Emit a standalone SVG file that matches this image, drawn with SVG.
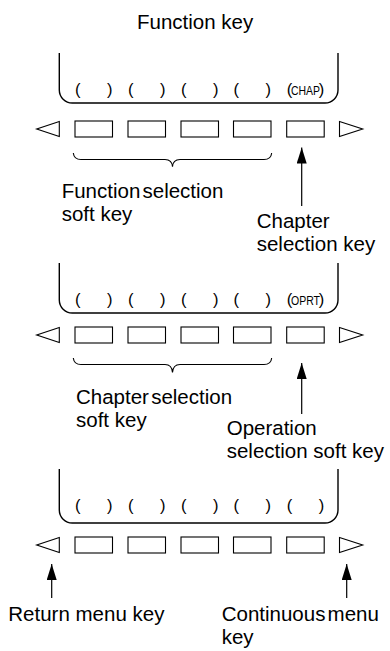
<svg xmlns="http://www.w3.org/2000/svg" width="390" height="651" viewBox="0 0 390 651">
<style>
.t{font-family:"Liberation Sans",Arial,sans-serif;font-size:20.5px;fill:#000}
.tight{word-spacing:-3.5px}
.p{font-family:"Liberation Sans",Arial,sans-serif;font-size:16.5px;fill:#000}
.l{font-family:"Liberation Sans",Arial,sans-serif;font-size:12.5px;fill:#000}
.panel{fill:none;stroke:#000;stroke-width:1.4}
.key{fill:#fff;stroke:#000;stroke-width:1.1}
.tri{fill:#fff;stroke:#000;stroke-width:1.1}
.brace{fill:none;stroke:#000;stroke-width:1.1}
.arr{fill:none;stroke:#000;stroke-width:1.2}
</style>
<defs>
<marker id="ah" viewBox="0 0 16 10" refX="16" refY="5" markerWidth="16" markerHeight="10" markerUnits="userSpaceOnUse" orient="auto"><path d="M0,0 L16,5 L0,10 z" fill="#000"/></marker>
<g id="keyrow">
<polygon class="tri" points="59.3,121.5 36.7,129 59.3,136.5"/>
<rect class="key" x="75" y="121" width="37.5" height="16"/>
<rect class="key" x="128" y="121" width="37.5" height="16"/>
<rect class="key" x="181" y="121" width="37.5" height="16"/>
<rect class="key" x="233.5" y="121" width="37.5" height="16"/>
<rect class="key" x="286.7" y="121" width="37.5" height="16"/>
<polygon class="tri" points="339.5,121.5 362.7,129 339.5,136.5"/>
</g>
<g id="parens">
<text class="p" x="75" y="94.5">(</text><text class="p" x="112.5" y="94.5" text-anchor="end">)</text>
<text class="p" x="128" y="94.5">(</text><text class="p" x="165.5" y="94.5" text-anchor="end">)</text>
<text class="p" x="181" y="94.5">(</text><text class="p" x="218.5" y="94.5" text-anchor="end">)</text>
<text class="p" x="233.5" y="94.5">(</text><text class="p" x="271" y="94.5" text-anchor="end">)</text>
<text class="p" x="286.7" y="94.5">(</text><text class="p" x="324.2" y="94.5" text-anchor="end">)</text>
</g>
</defs>
<text class="t" x="137" y="29">Function key</text>

<g id="panel1">
<path class="panel" d="M59.3,53 V90 A13,13 0 0 0 72.3,103 H325 A13,13 0 0 0 338,90 V53"/>
<use href="#parens"/>
<text class="l" x="291" y="94.5" textLength="29" lengthAdjust="spacingAndGlyphs">CHAP</text>
<use href="#keyrow"/>
<path class="brace" d="M73.3,153 Q74,159.5 81,159.5 H165 Q172,159.5 172.5,166.7 Q173,159.5 180,159.5 H264 Q271,159.5 271.7,153"/>
</g>

<g id="panel2">
<g transform="translate(0,210)">
<path class="panel" d="M59.3,53 V90 A13,13 0 0 0 72.3,103 H325 A13,13 0 0 0 338,90 V53"/>
<use href="#parens"/>
<text class="l" x="291" y="94.5" textLength="29" lengthAdjust="spacingAndGlyphs">OPRT</text>
</g>
<use href="#keyrow" transform="translate(0,206)"/>
<path class="brace" d="M73.3,358 Q74,364.5 81,364.5 H165 Q172,364.5 172.5,372.5 Q173,364.5 180,364.5 H264 Q271,364.5 271.7,358"/>
</g>

<g id="panel3" transform="translate(0,416)">
<path class="panel" d="M59.3,53 V94 A13,13 0 0 0 72.3,107 H325 A13,13 0 0 0 338,94 V53"/>
<use href="#parens"/>
<use href="#keyrow"/>
</g>

<g id="labels">
<text class="t tight" x="61.7" y="198">Function selection</text>
<text class="t" x="61.7" y="221">soft key</text>
<text class="t" x="256.7" y="228">Chapter</text>
<text class="t" x="256.7" y="251">selection key</text>
<text class="t tight" x="76" y="404">Chapter selection</text>
<text class="t" x="76" y="427">soft key</text>
<text class="t" x="226.7" y="435">Operation</text>
<text class="t" x="226.7" y="458">selection soft key</text>
<text class="t" x="8.3" y="621">Return menu key</text>
<text class="t tight" x="221.7" y="621">Continuous menu</text>
<text class="t" x="221.7" y="644">key</text>
</g>

<g id="connectors">
<line class="arr" x1="301.7" y1="206" x2="301.7" y2="147.5" marker-end="url(#ah)"/>
<line class="arr" x1="301.7" y1="414" x2="301.7" y2="363" marker-end="url(#ah)"/>
<line class="arr" x1="51.7" y1="598" x2="51.7" y2="564" marker-end="url(#ah)"/>
<line class="arr" x1="346.7" y1="598" x2="346.7" y2="564" marker-end="url(#ah)"/>
</g>
</svg>
